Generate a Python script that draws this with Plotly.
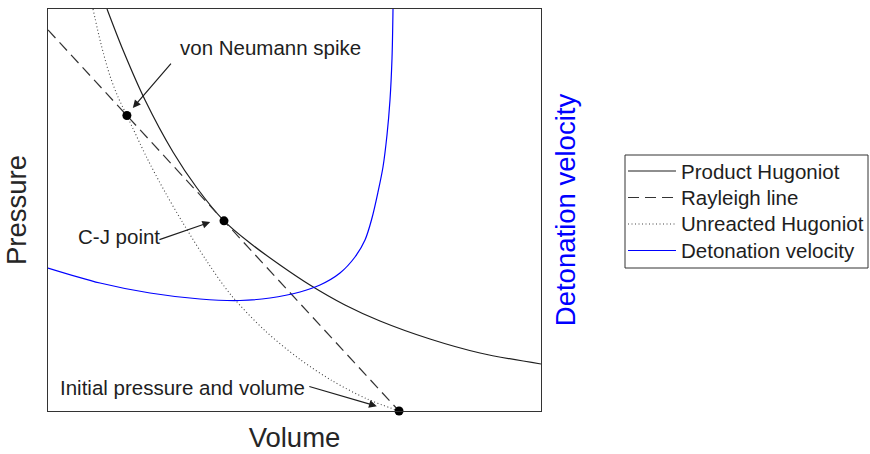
import plotly.graph_objects as go

# Schematic p-v diagram of a detonation (arbitrary units, 0-100 on each axis)

# Product (reacted) Hugoniot
product_v = [11.97, 15.21, 19.68, 25.35, 30.22, 35.70, 40.97, 47.06, 53.14, 60.24, 67.34, 77.48, 87.63, 100.0]
product_p = [100.0, 89.80, 77.36, 64.43, 55.47, 47.30, 41.79, 36.32, 31.34, 26.37, 22.39, 17.91, 14.43, 11.69]

# Unreacted Hugoniot
unreacted_v = [9.13, 10.75, 12.58, 14.20, 16.00, 20.08, 23.73, 27.38, 32.25, 37.12, 44.02, 51.12, 57.81, 64.71, 71.20]
unreacted_p = [100.0, 91.29, 83.33, 78.11, 73.50, 62.94, 54.48, 46.77, 37.21, 28.86, 19.98, 12.84, 7.41, 3.01, 0.0]

# Rayleigh line (straight, from the initial state)
rayleigh_v = [0.0, 71.2]
rayleigh_p = [94.8, 0.0]

# Detonation velocity along the product Hugoniot (secondary axis)
velocity_v = [0.0, 10.55, 20.69, 30.83, 38.95, 45.03, 51.12, 55.17, 59.23, 62.27, 64.30,
              65.72, 66.94, 67.95, 68.76, 69.37, 69.78, 69.98]
velocity_d = [35.57, 31.84, 29.35, 27.86, 27.49, 28.11, 29.60, 31.34, 34.33, 38.31, 42.54,
              48.01, 54.48, 60.70, 68.66, 77.36, 87.81, 100.0]

# Marked states: von Neumann spike, C-J point, initial state
state_names = ["von Neumann spike", "C-J point", "Initial pressure and volume"]
state_v = [16.0, 35.7, 71.2]
state_p = [73.5, 47.3, 0.0]

BLACK = "#1e1e1e"
BLUE = "#0000ff"
FONT = "Liberation Sans, Arial, sans-serif"

styles = {
    "Product Hugoniot": dict(color=BLACK, width=1.2, dash="solid"),
    "Rayleigh line": dict(color="#333333", width=1.2, dash="11px,6px"),
    "Unreacted Hugoniot": dict(color="#444444", width=1.1, dash="1px,2.5px"),
    "Detonation velocity": dict(color=BLUE, width=1.2, dash="solid"),
}

fig = go.Figure()
fig.add_trace(go.Scatter(x=product_v, y=product_p, mode="lines", name="Product Hugoniot",
                         line=dict(**styles["Product Hugoniot"], shape="spline", smoothing=0.9),
                         showlegend=False))
fig.add_trace(go.Scatter(x=rayleigh_v, y=rayleigh_p, mode="lines", name="Rayleigh line",
                         line=styles["Rayleigh line"], showlegend=False))
fig.add_trace(go.Scatter(x=unreacted_v, y=unreacted_p, mode="lines", name="Unreacted Hugoniot",
                         line=dict(**styles["Unreacted Hugoniot"], shape="spline", smoothing=0.9),
                         showlegend=False))
fig.add_trace(go.Scatter(x=velocity_v, y=velocity_d, mode="lines", name="Detonation velocity",
                         line=dict(**styles["Detonation velocity"], shape="spline", smoothing=0.9),
                         yaxis="y2", showlegend=False))
fig.add_trace(go.Scatter(x=state_v, y=state_p, mode="markers", text=state_names,
                         marker=dict(color="black", size=9), cliponaxis=False, showlegend=False))

# Labels with arrows pointing to the marked states
label_pos = [(26.4, 90.3), (5.7, 43.5), (2.0, 5.8)]
arrow_tail = [(25.2, 86.8), (22.3, 42.5), (52.7, 6.2)]
arrow_head = [(17.2, 75.4), (32.9, 47.0), (66.7, 1.2)]
for name, (lx, ly), (tx, ty), (hx, hy) in zip(state_names, label_pos, arrow_tail, arrow_head):
    fig.add_annotation(x=lx, y=ly, xref="x", yref="y", text=name, showarrow=False,
                       xanchor="left", yanchor="middle",
                       font=dict(family=FONT, size=20.5, color=BLACK))
    fig.add_annotation(x=hx, y=hy, ax=tx, ay=ty, xref="x", yref="y", axref="x", ayref="y",
                       text="", showarrow=True, arrowhead=2, arrowsize=1.3, arrowwidth=1.2,
                       arrowcolor=BLACK)

# Legend box drawn beside the plot area
box_x0, box_x1 = 1.1704, 1.6633
box_y0, box_y1 = 0.3557, 0.6368
fig.add_shape(type="rect", xref="paper", yref="paper", x0=box_x0, x1=box_x1, y0=box_y0, y1=box_y1,
              line=dict(color="#333333", width=1), fillcolor="white")
row_y = [0.5970, 0.5311, 0.4652, 0.3993]
for (label, st), ry in zip(styles.items(), row_y):
    fig.add_shape(type="line", xref="paper", yref="paper", x0=1.1765, x1=1.2738, y0=ry, y1=ry,
                  line=st)
    fig.add_annotation(x=1.2799, y=ry, xref="paper", yref="paper", text=label, showarrow=False,
                       xanchor="left", yanchor="middle",
                       font=dict(family=FONT, size=20.5, color=BLACK))

axis_common = dict(showticklabels=False, ticks="", showgrid=False, zeroline=False)
fig.update_layout(
    width=870, height=454,
    margin=dict(l=48, r=329, t=9, b=43),
    paper_bgcolor="white", plot_bgcolor="white",
    font=dict(family=FONT),
    xaxis=dict(range=[0, 100], showline=True, mirror=True, linecolor="#333333", linewidth=1,
               title=dict(text="Volume", standoff=16, font=dict(size=27.5, color="#262626")),
               automargin=False, **axis_common),
    yaxis=dict(range=[0, 100], showline=True, mirror=True, linecolor="#333333", linewidth=1,
               title=dict(text="Pressure", standoff=12, font=dict(size=27.5, color="#262626")),
               automargin=False, **axis_common),
    yaxis2=dict(range=[0, 100], overlaying="y", side="right", showline=False,
                title=dict(text="Detonation velocity", standoff=14, font=dict(size=27.5, color=BLUE)),
                automargin=False, **axis_common),
)

fig.write_html("out.html")
